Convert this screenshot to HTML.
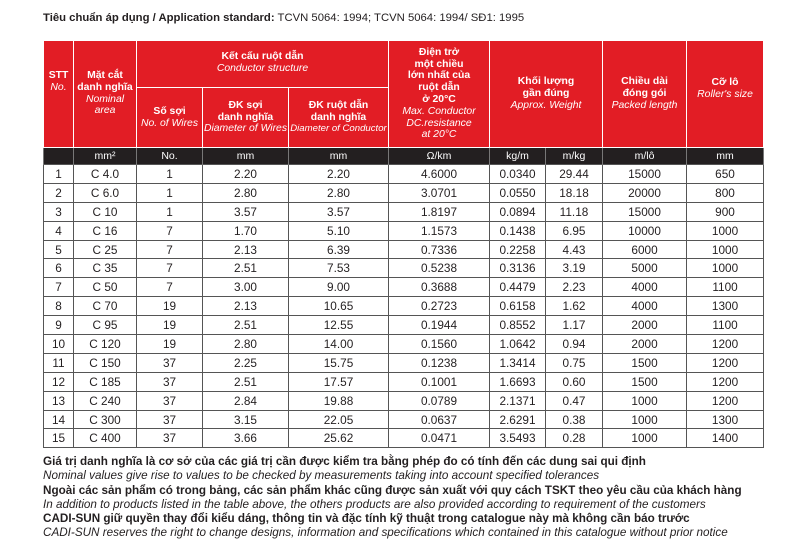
<!DOCTYPE html>
<html><head><meta charset="utf-8"><style>
body{margin:0;width:800px;height:555px;background:#fff;position:relative;overflow:hidden;font-family:"Liberation Sans",sans-serif;color:#231f20}
.t{position:absolute;left:43px;top:12px;font-size:11.3px;white-space:nowrap}
table{position:absolute;left:43px;top:40px;border-collapse:collapse;table-layout:fixed;width:720px}
td{padding:0;text-align:center;overflow:hidden;white-space:nowrap}
.h td{background:#e21d25;color:#fff;font-size:10.4px;line-height:11.8px;border:1px solid #fff;font-weight:bold}
.h td i{font-weight:normal}
.u td{background:#231f20;color:#fff;font-size:10.5px;height:16px;border-left:1px solid #777;border-right:1px solid #777}
.d td{height:17.9px;font-size:11.8px;border:1px solid #555}
.f{position:absolute;left:43px;font-size:11.7px;white-space:nowrap}
</style></head><body>
<div class="t"><b>Tiêu chuẩn áp dụng / Application standard:</b> TCVN 5064: 1994; TCVN 5064: 1994/ SĐ1: 1995</div>
<table>
<colgroup><col style="width:30px"><col style="width:63px"><col style="width:66px"><col style="width:86px"><col style="width:100px"><col style="width:101px"><col style="width:56px"><col style="width:57px"><col style="width:84px"><col style="width:77px"></colgroup>
<tr class="h" style="height:47px"><td rowspan="2" style="vertical-align:top;padding-top:29px">STT<br><i>No.</i></td><td rowspan="2" style="vertical-align:top;padding-top:29px">Mặt cắt<br>danh nghĩa<br><i>Nominal<br>area</i></td><td colspan="3" style="vertical-align:top;padding-top:10px">Kết cấu ruột dẫn<br><i>Conductor structure</i></td><td rowspan="2">Điện trở<br>một chiều<br>lớn nhất của<br>ruột dẫn<br>ở 20°C<br><i>Max. Conductor<br>DC.resistance<br>at 20°C</i></td><td colspan="2" rowspan="2">Khối lượng<br>gần đúng<br><i>Approx. Weight</i></td><td rowspan="2">Chiều dài<br>đóng gói<br><i>Packed length</i></td><td rowspan="2" style="vertical-align:top;padding-top:36px">Cỡ lô<br><i>Roller's size</i></td></tr>
<tr class="h" style="height:60px"><td>Số sợi<br><i>No. of Wires</i></td><td>ĐK sợi<br>danh nghĩa<br><i>Diameter of Wires</i></td><td>ĐK ruột dẫn<br>danh nghĩa<br><i style="font-size:9.6px">Diameter of Conductor</i></td></tr>
<tr class="u"><td></td><td>mm²</td><td>No.</td><td>mm</td><td>mm</td><td>Ω/km</td><td>kg/m</td><td>m/kg</td><td>m/lô</td><td>mm</td></tr>
<tr class="d"><td>1</td><td>C 4.0</td><td>1</td><td>2.20</td><td>2.20</td><td>4.6000</td><td>0.0340</td><td>29.44</td><td>15000</td><td>650</td></tr>
<tr class="d"><td>2</td><td>C 6.0</td><td>1</td><td>2.80</td><td>2.80</td><td>3.0701</td><td>0.0550</td><td>18.18</td><td>20000</td><td>800</td></tr>
<tr class="d"><td>3</td><td>C 10</td><td>1</td><td>3.57</td><td>3.57</td><td>1.8197</td><td>0.0894</td><td>11.18</td><td>15000</td><td>900</td></tr>
<tr class="d"><td>4</td><td>C 16</td><td>7</td><td>1.70</td><td>5.10</td><td>1.1573</td><td>0.1438</td><td>6.95</td><td>10000</td><td>1000</td></tr>
<tr class="d"><td>5</td><td>C 25</td><td>7</td><td>2.13</td><td>6.39</td><td>0.7336</td><td>0.2258</td><td>4.43</td><td>6000</td><td>1000</td></tr>
<tr class="d"><td>6</td><td>C 35</td><td>7</td><td>2.51</td><td>7.53</td><td>0.5238</td><td>0.3136</td><td>3.19</td><td>5000</td><td>1000</td></tr>
<tr class="d"><td>7</td><td>C 50</td><td>7</td><td>3.00</td><td>9.00</td><td>0.3688</td><td>0.4479</td><td>2.23</td><td>4000</td><td>1100</td></tr>
<tr class="d"><td>8</td><td>C 70</td><td>19</td><td>2.13</td><td>10.65</td><td>0.2723</td><td>0.6158</td><td>1.62</td><td>4000</td><td>1300</td></tr>
<tr class="d"><td>9</td><td>C 95</td><td>19</td><td>2.51</td><td>12.55</td><td>0.1944</td><td>0.8552</td><td>1.17</td><td>2000</td><td>1100</td></tr>
<tr class="d"><td>10</td><td>C 120</td><td>19</td><td>2.80</td><td>14.00</td><td>0.1560</td><td>1.0642</td><td>0.94</td><td>2000</td><td>1200</td></tr>
<tr class="d"><td>11</td><td>C 150</td><td>37</td><td>2.25</td><td>15.75</td><td>0.1238</td><td>1.3414</td><td>0.75</td><td>1500</td><td>1200</td></tr>
<tr class="d"><td>12</td><td>C 185</td><td>37</td><td>2.51</td><td>17.57</td><td>0.1001</td><td>1.6693</td><td>0.60</td><td>1500</td><td>1200</td></tr>
<tr class="d"><td>13</td><td>C 240</td><td>37</td><td>2.84</td><td>19.88</td><td>0.0789</td><td>2.1371</td><td>0.47</td><td>1000</td><td>1200</td></tr>
<tr class="d"><td>14</td><td>C 300</td><td>37</td><td>3.15</td><td>22.05</td><td>0.0637</td><td>2.6291</td><td>0.38</td><td>1000</td><td>1300</td></tr>
<tr class="d"><td>15</td><td>C 400</td><td>37</td><td>3.66</td><td>25.62</td><td>0.0471</td><td>3.5493</td><td>0.28</td><td>1000</td><td>1400</td></tr>
</table>
<div class="f" style="top:455px"><b>Giá trị danh nghĩa là cơ sở của các giá trị cần được kiểm tra bằng phép đo có tính đến các dung sai qui định</b></div>
<div class="f" style="top:469px"><i>Nominal values give rise to values to be checked by measurements taking into account specified tolerances</i></div>
<div class="f" style="top:483.5px"><b>Ngoài các sản phẩm có trong bảng, các sản phẩm khác cũng được sản xuất với quy cách TSKT theo yêu cầu của khách hàng</b></div>
<div class="f" style="top:498px"><i>In addition to products listed in the table above, the others products are also provided according to requirement of the customers</i></div>
<div class="f" style="top:512px"><b>CADI-SUN giữ quyền thay đổi kiểu dáng, thông tin và đặc tính kỹ thuật trong catalogue này mà không cần báo trước</b></div>
<div class="f" style="top:526px"><i>CADI-SUN reserves the right to change designs, information and specifications which contained in this catalogue without prior notice</i></div>
</body></html>
